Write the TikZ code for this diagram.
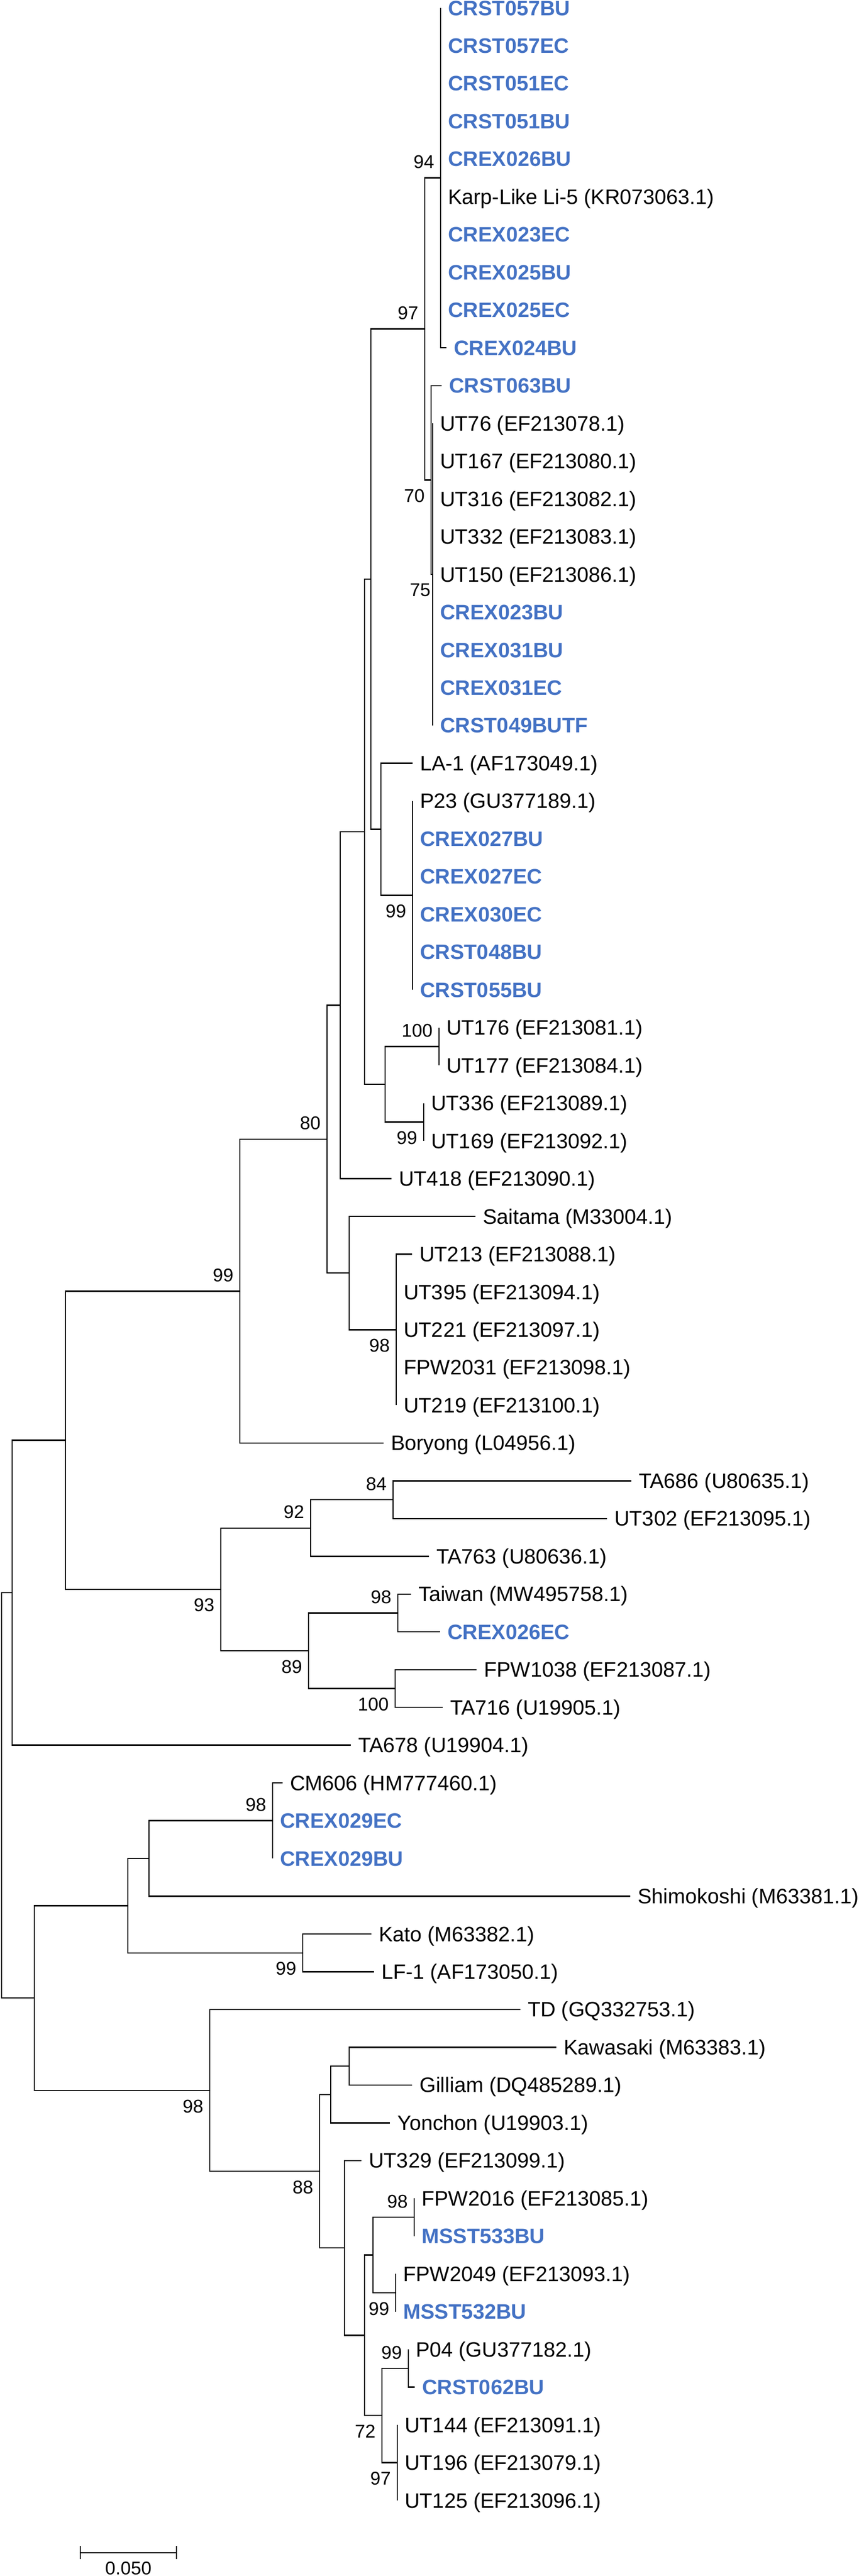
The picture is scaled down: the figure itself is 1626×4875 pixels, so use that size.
\documentclass[tikz,border=0pt]{standalone}
\usepackage{fontspec}
\setmainfont{Liberation Sans}
\definecolor{isolate}{RGB}{68,114,196}
\tikzset{
  seq/.style={anchor=base west, inner sep=0pt, xshift=3.25pt, yshift=-3.5pt,
              font=\fontsize{9.9}{11}\selectfont},
  iso/.style={seq, text=isolate, font=\fontsize{9.9}{11}\selectfont\bfseries},
  boot/.style={inner sep=0pt, font=\fontsize{8.75}{10}\selectfont},
  bup/.style={boot, anchor=east, xshift=-2.75pt, yshift=7.5pt},
  bdown/.style={boot, anchor=east, xshift=-2.75pt, yshift=-7.5pt}
}
\begin{document}
\begin{tikzpicture}[x=0.25pt,y=-0.25pt,line width=0.6pt]
  \useasboundingbox (0,0) rectangle (1626,4875);
  % Internal nodes
  \coordinate (root) at (3,3397.6);
  \coordinate (nX)  at (23,3014.1);
  \coordinate (nQ)  at (124,2725.6);
  \coordinate (nP)  at (454,2443.3);
  \coordinate (nM)  at (619,2155.8);
  \coordinate (nL)  at (644,1902.3);
  \coordinate (nH)  at (690,1574.0);
  \coordinate (nE)  at (702,1096.0);
  \coordinate (nB)  at (804,622.5);
  \coordinate (nA)  at (834,336.6);
  \coordinate (nC)  at (816,908.4);
  \coordinate (nD)  at (819,1087.1);
  \coordinate (nF)  at (721,1569.5);
  \coordinate (nG)  at (781,1694.6);
  \coordinate (nJ)  at (729,2051.9);
  \coordinate (nI)  at (831,1980.5);
  \coordinate (nK)  at (802,2123.4);
  \coordinate (nN)  at (661,2409.2);
  \coordinate (nO)  at (750,2516.5);
  \coordinate (nR)  at (418,3007.8);
  \coordinate (nS)  at (588,2891.7);
  \coordinate (nT)  at (744,2838.1);
  \coordinate (nU)  at (584,3124.0);
  \coordinate (nV)  at (753,3052.5);
  \coordinate (nW)  at (748,3195.5);
  \coordinate (nY)  at (65,3781.1);
  \coordinate (nZ)  at (242,3606.4);
  \coordinate (nAA) at (282,3517.0);
  \coordinate (nAB) at (516,3445.6);
  \coordinate (nAC) at (573,3695.7);
  \coordinate (nAD) at (397,3955.9);
  \coordinate (nAE) at (605,4108.9);
  \coordinate (nAF) at (626,3963.7);
  \coordinate (nAG) at (661,3910.2);
  \coordinate (nAH) at (652,4254.1);
  \coordinate (nAI) at (690,4419.4);
  \coordinate (nAJ) at (706,4267.5);
  \coordinate (nAK) at (784,4196.0);
  \coordinate (nAL) at (749,4339.0);
  \coordinate (nAN) at (723,4571.2);
  \coordinate (nAM) at (773,4481.9);
  \coordinate (nAO) at (752,4660.6);
  % Leaf tips
  \coordinate (l1)  at (834,15.0);
  \coordinate (l2)  at (834,86.5);
  \coordinate (l3)  at (834,157.9);
  \coordinate (l4)  at (834,229.4);
  \coordinate (l5)  at (834,300.9);
  \coordinate (l6)  at (834,372.4);
  \coordinate (l7)  at (834,443.8);
  \coordinate (l8)  at (834,515.3);
  \coordinate (l9)  at (834,586.8);
  \coordinate (l10) at (845,658.2);
  \coordinate (l11) at (836,729.7);
  \coordinate (l12) at (819,801.2);
  \coordinate (l13) at (819,872.6);
  \coordinate (l14) at (819,944.1);
  \coordinate (l15) at (819,1015.6);
  \coordinate (l16) at (819,1087.1);
  \coordinate (l17) at (819,1158.5);
  \coordinate (l18) at (819,1230.0);
  \coordinate (l19) at (819,1301.5);
  \coordinate (l20) at (819,1372.9);
  \coordinate (l21) at (781,1444.4);
  \coordinate (l22) at (781,1515.9);
  \coordinate (l23) at (781,1587.3);
  \coordinate (l24) at (781,1658.8);
  \coordinate (l25) at (781,1730.3);
  \coordinate (l26) at (781,1801.8);
  \coordinate (l27) at (781,1873.2);
  \coordinate (l28) at (831,1944.7);
  \coordinate (l29) at (831,2016.2);
  \coordinate (l30) at (802,2087.6);
  \coordinate (l31) at (802,2159.1);
  \coordinate (l32) at (741,2230.6);
  \coordinate (l33) at (900,2302.0);
  \coordinate (l34) at (780,2373.5);
  \coordinate (l35) at (750,2445.0);
  \coordinate (l36) at (750,2516.5);
  \coordinate (l37) at (750,2587.9);
  \coordinate (l38) at (750,2659.4);
  \coordinate (l39) at (726,2730.9);
  \coordinate (l40) at (1195,2802.3);
  \coordinate (l41) at (1149,2873.8);
  \coordinate (l42) at (812,2945.3);
  \coordinate (l43) at (778,3016.7);
  \coordinate (l44) at (833,3088.2);
  \coordinate (l45) at (902,3159.7);
  \coordinate (l46) at (838,3231.2);
  \coordinate (l47) at (664,3302.6);
  \coordinate (l48) at (535,3374.1);
  \coordinate (l49) at (516,3445.6);
  \coordinate (l50) at (516,3517.0);
  \coordinate (l51) at (1193,3588.5);
  \coordinate (l52) at (703,3660.0);
  \coordinate (l53) at (708,3731.4);
  \coordinate (l54) at (985,3802.9);
  \coordinate (l55) at (1053,3874.4);
  \coordinate (l56) at (780,3945.9);
  \coordinate (l57) at (738,4017.3);
  \coordinate (l58) at (684,4088.8);
  \coordinate (l59) at (784,4160.3);
  \coordinate (l60) at (784,4231.7);
  \coordinate (l61) at (749,4303.2);
  \coordinate (l62) at (749,4374.7);
  \coordinate (l63) at (773,4446.1);
  \coordinate (l64) at (785,4517.6);
  \coordinate (l65) at (752,4589.1);
  \coordinate (l66) at (752,4660.6);
  \coordinate (l67) at (752,4732.0);

  % Draw branches
  \draw (root) |- (nX)  (root) |- (nY);
  \draw (nX) |- (nQ)  (nX) |- (l47);
  \draw (nQ) |- (nP)  (nQ) |- (nR);
  \draw (nP) |- (nM)  (nP) |- (l39);
  \draw (nM) |- (nL)  (nM) |- (nN);
  \draw (nL) |- (nH)  (nL) |- (l32);
  \draw (nH) |- (nE)  (nH) |- (nJ);
  \draw (nE) |- (nB)  (nE) |- (nF);
  \draw (nB) |- (nA)  (nB) |- (nC);
  \draw (nA) |- (l1)  (nA) |- (l2)  (nA) |- (l3)  (nA) |- (l4)  (nA) |- (l5)
        (nA) |- (l6)  (nA) |- (l7)  (nA) |- (l8)  (nA) |- (l9)  (nA) |- (l10);
  \draw (nC) |- (l11)  (nC) |- (nD);
  \draw (nD) |- (l12)  (nD) |- (l13)  (nD) |- (l14)  (nD) |- (l15)  (nD) |- (l16)
        (nD) |- (l17)  (nD) |- (l18)  (nD) |- (l19)  (nD) |- (l20);
  \draw (nF) |- (l21)  (nF) |- (nG);
  \draw (nG) |- (l22)  (nG) |- (l23)  (nG) |- (l24)  (nG) |- (l25)  (nG) |- (l26)
        (nG) |- (l27);
  \draw (nJ) |- (nI)  (nJ) |- (nK);
  \draw (nI) |- (l28)  (nI) |- (l29);
  \draw (nK) |- (l30)  (nK) |- (l31);
  \draw (nN) |- (l33)  (nN) |- (nO);
  \draw (nO) |- (l34)  (nO) |- (l35)  (nO) |- (l36)  (nO) |- (l37)  (nO) |- (l38);
  \draw (nR) |- (nS)  (nR) |- (nU);
  \draw (nS) |- (nT)  (nS) |- (l42);
  \draw (nT) |- (l40)  (nT) |- (l41);
  \draw (nU) |- (nV)  (nU) |- (nW);
  \draw (nV) |- (l43)  (nV) |- (l44);
  \draw (nW) |- (l45)  (nW) |- (l46);
  \draw (nY) |- (nZ)  (nY) |- (nAD);
  \draw (nZ) |- (nAA)  (nZ) |- (nAC);
  \draw (nAA) |- (nAB)  (nAA) |- (l51);
  \draw (nAB) |- (l48)  (nAB) |- (l49)  (nAB) |- (l50);
  \draw (nAC) |- (l52)  (nAC) |- (l53);
  \draw (nAD) |- (l54)  (nAD) |- (nAE);
  \draw (nAE) |- (nAF)  (nAE) |- (nAH);
  \draw (nAF) |- (nAG)  (nAF) |- (l57);
  \draw (nAG) |- (l55)  (nAG) |- (l56);
  \draw (nAH) |- (l58)  (nAH) |- (nAI);
  \draw (nAI) |- (nAJ)  (nAI) |- (nAN);
  \draw (nAJ) |- (nAK)  (nAJ) |- (nAL);
  \draw (nAK) |- (l59)  (nAK) |- (l60);
  \draw (nAL) |- (l61)  (nAL) |- (l62);
  \draw (nAN) |- (nAM)  (nAN) |- (nAO);
  \draw (nAM) |- (l63)  (nAM) |- (l64);
  \draw (nAO) |- (l65)  (nAO) |- (l66)  (nAO) |- (l67);

  % Bootstrap values
  \node[bup]   (bA)  at (nA)  {94};
  \node[bup]   (bB)  at (nB)  {97};
  \node[bdown] (bC)  at (nC)  {70};
  \node[bdown,xshift=2pt] (bD) at (nD) {75};
  \node[bdown] (bG)  at (nG)  {99};
  \node[bup]   (bI)  at (nI)  {100};
  \node[bdown] (bK)  at (nK)  {99};
  \node[bup]   (bM)  at (nM)  {80};
  \node[bdown] (bO)  at (nO)  {98};
  \node[bup]   (bP)  at (nP)  {99};
  \node[bdown] (bR)  at (nR)  {93};
  \node[bup]   (bS)  at (nS)  {92};
  \node[bup]   (bT)  at (nT)  {84};
  \node[bdown] (bU)  at (nU)  {89};
  \node[bup]   (bV)  at (nV)  {98};
  \node[bdown] (bW)  at (nW)  {100};
  \node[bup]   (bAB) at (nAB) {98};
  \node[bdown] (bAC) at (nAC) {99};
  \node[bdown] (bAD) at (nAD) {98};
  \node[bdown] (bAE) at (nAE) {88};
  \node[bup]   (bAK) at (nAK) {98};
  \node[bdown] (bAL) at (nAL) {99};
  \node[bup]   (bAM) at (nAM) {99};
  \node[bdown] (bAN) at (nAN) {72};
  \node[bdown] (bAO) at (nAO) {97};

  % Leaf labels
  \node[iso] (t1)  at (l1)  {CRST057BU};
  \node[iso] (t2)  at (l2)  {CRST057EC};
  \node[iso] (t3)  at (l3)  {CRST051EC};
  \node[iso] (t4)  at (l4)  {CRST051BU};
  \node[iso] (t5)  at (l5)  {CREX026BU};
  \node[seq] (t6)  at (l6)  {Karp-Like Li-5 (KR073063.1)};
  \node[iso] (t7)  at (l7)  {CREX023EC};
  \node[iso] (t8)  at (l8)  {CREX025BU};
  \node[iso] (t9)  at (l9)  {CREX025EC};
  \node[iso] (t10) at (l10) {CREX024BU};
  \node[iso] (t11) at (l11) {CRST063BU};
  \node[seq] (t12) at (l12) {UT76 (EF213078.1)};
  \node[seq] (t13) at (l13) {UT167 (EF213080.1)};
  \node[seq] (t14) at (l14) {UT316 (EF213082.1)};
  \node[seq] (t15) at (l15) {UT332 (EF213083.1)};
  \node[seq] (t16) at (l16) {UT150 (EF213086.1)};
  \node[iso] (t17) at (l17) {CREX023BU};
  \node[iso] (t18) at (l18) {CREX031BU};
  \node[iso] (t19) at (l19) {CREX031EC};
  \node[iso] (t20) at (l20) {CRST049BUTF};
  \node[seq] (t21) at (l21) {LA-1 (AF173049.1)};
  \node[seq] (t22) at (l22) {P23 (GU377189.1)};
  \node[iso] (t23) at (l23) {CREX027BU};
  \node[iso] (t24) at (l24) {CREX027EC};
  \node[iso] (t25) at (l25) {CREX030EC};
  \node[iso] (t26) at (l26) {CRST048BU};
  \node[iso] (t27) at (l27) {CRST055BU};
  \node[seq] (t28) at (l28) {UT176 (EF213081.1)};
  \node[seq] (t29) at (l29) {UT177 (EF213084.1)};
  \node[seq] (t30) at (l30) {UT336 (EF213089.1)};
  \node[seq] (t31) at (l31) {UT169 (EF213092.1)};
  \node[seq] (t32) at (l32) {UT418 (EF213090.1)};
  \node[seq] (t33) at (l33) {Saitama (M33004.1)};
  \node[seq] (t34) at (l34) {UT213 (EF213088.1)};
  \node[seq] (t35) at (l35) {UT395 (EF213094.1)};
  \node[seq] (t36) at (l36) {UT221 (EF213097.1)};
  \node[seq] (t37) at (l37) {FPW2031 (EF213098.1)};
  \node[seq] (t38) at (l38) {UT219 (EF213100.1)};
  \node[seq] (t39) at (l39) {Boryong (L04956.1)};
  \node[seq] (t40) at (l40) {TA686 (U80635.1)};
  \node[seq] (t41) at (l41) {UT302 (EF213095.1)};
  \node[seq] (t42) at (l42) {TA763 (U80636.1)};
  \node[seq] (t43) at (l43) {Taiwan (MW495758.1)};
  \node[iso] (t44) at (l44) {CREX026EC};
  \node[seq] (t45) at (l45) {FPW1038 (EF213087.1)};
  \node[seq] (t46) at (l46) {TA716 (U19905.1)};
  \node[seq] (t47) at (l47) {TA678 (U19904.1)};
  \node[seq] (t48) at (l48) {CM606 (HM777460.1)};
  \node[iso] (t49) at (l49) {CREX029EC};
  \node[iso] (t50) at (l50) {CREX029BU};
  \node[seq] (t51) at (l51) {Shimokoshi (M63381.1)};
  \node[seq] (t52) at (l52) {Kato (M63382.1)};
  \node[seq] (t53) at (l53) {LF-1 (AF173050.1)};
  \node[seq] (t54) at (l54) {TD (GQ332753.1)};
  \node[seq] (t55) at (l55) {Kawasaki (M63383.1)};
  \node[seq] (t56) at (l56) {Gilliam (DQ485289.1)};
  \node[seq] (t57) at (l57) {Yonchon (U19903.1)};
  \node[seq] (t58) at (l58) {UT329 (EF213099.1)};
  \node[seq] (t59) at (l59) {FPW2016 (EF213085.1)};
  \node[iso] (t60) at (l60) {MSST533BU};
  \node[seq] (t61) at (l61) {FPW2049 (EF213093.1)};
  \node[iso] (t62) at (l62) {MSST532BU};
  \node[seq] (t63) at (l63) {P04 (GU377182.1)};
  \node[iso] (t64) at (l64) {CRST062BU};
  \node[seq] (t65) at (l65) {UT144 (EF213091.1)};
  \node[seq] (t66) at (l66) {UT196 (EF213079.1)};
  \node[seq] (t67) at (l67) {UT125 (EF213096.1)};

  % Draw scale bar
  \coordinate (sbL) at (152,4831);
  \coordinate (sbR) at (334,4831);
  \draw (sbL) -- (sbR);
  \draw ([yshift=3.25pt]sbL) -- ([yshift=-3pt]sbL);
  \draw ([yshift=3.25pt]sbR) -- ([yshift=-3pt]sbR);
  \node[boot] (sbT) at (243,4860) {0.050};
\end{tikzpicture}
\end{document}
